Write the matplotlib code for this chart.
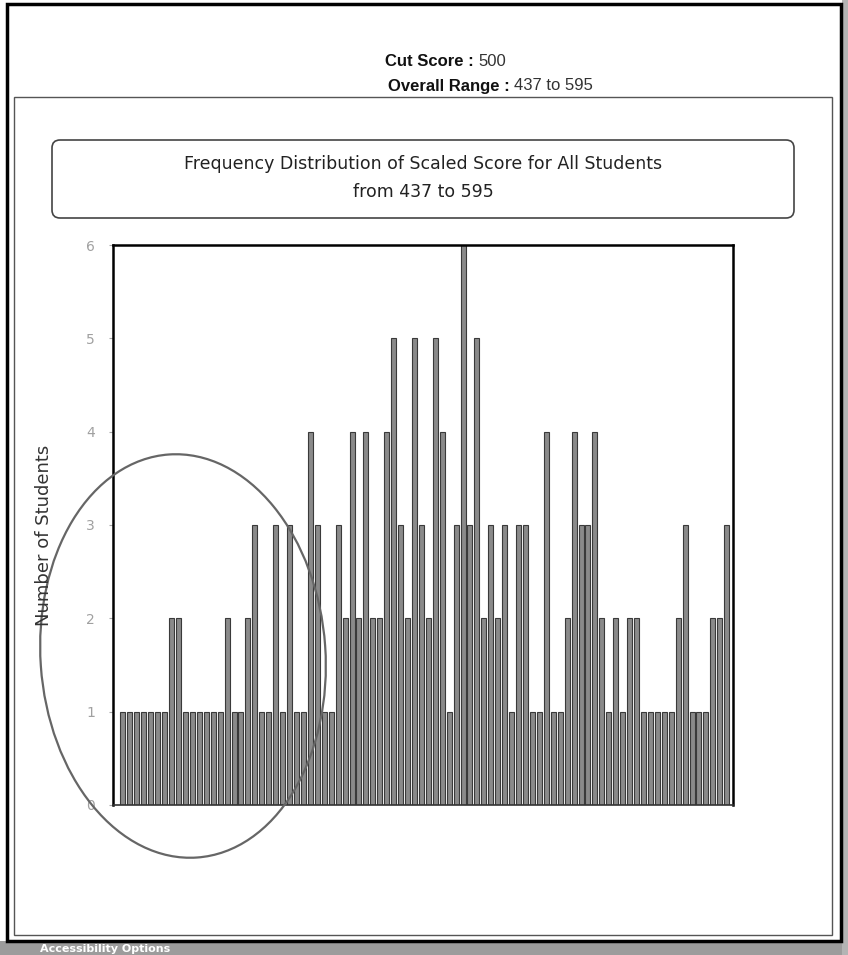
import matplotlib
matplotlib.use("Agg")
import matplotlib.pyplot as plt
from matplotlib.patches import Ellipse, FancyBboxPatch, Rectangle
import numpy as np

# ---------------- data ----------------
counts = [1, 1, 1, 1, 1, 1, 1, 2, 2, 1, 1, 1, 1, 1, 1, 2, 1, 1, 2, 3,
          1, 1, 3, 1, 3, 1, 1, 4, 3, 1, 1, 3, 2, 4, 2, 4, 2, 2, 4, 5,
          3, 2, 5, 3, 2, 5, 4, 1, 3, 6, 3, 5, 2, 3, 2, 3, 1, 3, 3, 1,
          1, 4, 1, 1, 2, 4, 3, 3, 4, 2, 1, 2, 1, 2, 2, 1, 1, 1, 1, 1,
          2, 3, 1, 1, 1, 2, 2, 3]
bar_index = list(range(len(counts)))
y_ticks = [0, 1, 2, 3, 4, 5, 6]
cut_score = "500"
range_text = "437 to 595"
chart_title = "Frequency Distribution of Scaled Score for All Students\nfrom 437 to 595"
y_label = "Number of Students"

W, H = 848, 955
fig = plt.figure(figsize=(W / 100, H / 100), dpi=100)
fig.patch.set_facecolor("white")

# ---------------- main chart ----------------
ax_l, ax_r, ax_t, ax_b = 113, 733, 245, 805
ax = fig.add_axes([ax_l / W, 1 - ax_b / H, (ax_r - ax_l) / W, (ax_b - ax_t) / H])
ax.set_facecolor("none")
ax.bar(bar_index, counts, width=0.72, color="#8a8a8a", edgecolor="#3a3a3a",
       linewidth=0.8, zorder=2)
ax.set_xlim(-1.44, 87.9)
ax.set_ylim(0, 6)
ax.set_xticks([])
ax.set_yticks(y_ticks)
ax.set_yticklabels([str(v) for v in y_ticks])
ax.tick_params(axis="y", colors="#a8a8a8", labelsize=10, length=3, width=0.8,
               pad=10)
for s in ["left", "top", "right"]:
    ax.spines[s].set_color("black")
    ax.spines[s].set_linewidth(1.8)
ax.spines["bottom"].set_color("#333333")
ax.spines["bottom"].set_linewidth(1.2)
for lbl in ax.get_yticklabels():
    lbl.set_color("#a0a0a0")

# ---------------- overlay (pixel coordinates) ----------------
ov = fig.add_axes([0, 0, 1, 1], zorder=5)
ov.set_facecolor("none")
ov.set_xlim(0, W)
ov.set_ylim(H, 0)
ov.axis("off")

# gray strips (bottom & right)
ov.add_patch(Rectangle((0, 941), W, 14, facecolor="#9c9c9c", edgecolor="none"))
ov.add_patch(Rectangle((842, 0), 6, H, facecolor="#b4b4b4", edgecolor="none"))
ov.text(40, 948.5, "Accessibility Options", color="white", fontsize=8,
        fontweight="bold", va="center", ha="left", family="DejaVu Sans")

# outer frame
ov.add_patch(Rectangle((7, 4), 834, 937, facecolor="none", edgecolor="black",
                       linewidth=2.5))
# inner panel
ov.add_patch(Rectangle((14, 97), 818, 838, facecolor="none",
                       edgecolor="#555555", linewidth=1.0))

# header
ov.text(474, 62, "Cut Score :", ha="right", va="center", fontsize=12,
        fontweight="bold", family="Liberation Sans", color="#111111")
ov.text(478, 62, cut_score, ha="left", va="center", fontsize=12,
        family="Liberation Sans", color="#333333")
ov.text(510, 86, "Overall Range :", ha="right", va="center", fontsize=12,
        fontweight="bold", family="Liberation Sans", color="#111111")
ov.text(514, 86, range_text, ha="left", va="center", fontsize=12,
        family="Liberation Sans", color="#333333")

# title box
ov.add_patch(FancyBboxPatch((52, 140), 742, 78,
                            boxstyle="round,pad=0,rounding_size=8",
                            facecolor="white", edgecolor="#444444",
                            linewidth=1.2))
ov.text(423, 178, chart_title, ha="center", va="center", fontsize=12.5,
        family="DejaVu Sans", color="#222222", linespacing=1.75)

# y label
ov.text(44, 535, y_label, rotation=90, ha="center", va="center",
        fontsize=13, family="DejaVu Sans", color="#333333")

# hand-drawn ellipse annotation
ov.add_patch(Ellipse((183, 656), 285, 404, angle=-4, facecolor="none",
                     edgecolor="#666666", linewidth=1.6))

fig.savefig("out.png", dpi=100, facecolor="white")
